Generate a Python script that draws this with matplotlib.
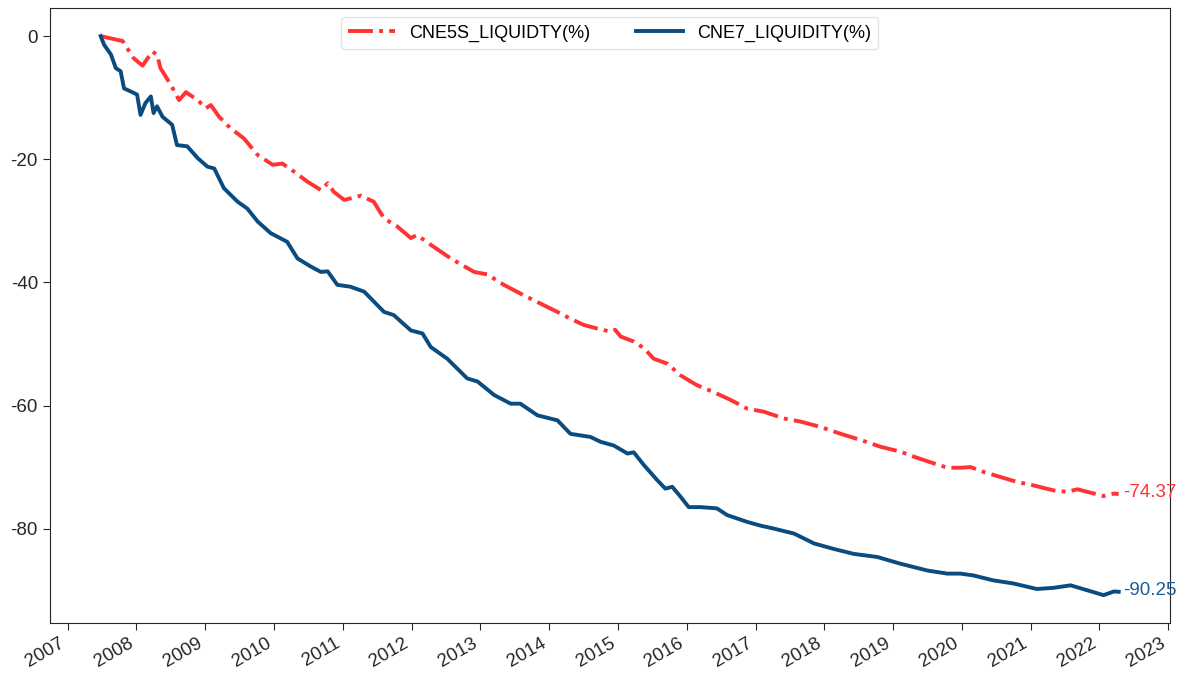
import numpy as np
import pandas as pd
import matplotlib
matplotlib.use("Agg")
from matplotlib import pyplot as plt
import matplotlib.dates as mdates

plt.rcParams['font.family'] = ['Liberation Sans', 'DejaVu Sans']
plt.rcParams['axes.unicode_minus'] = False

# values (decimal year, cumulative %)
cne5s_t = [2007.48, 2007.80, 2007.96, 2008.09, 2008.23, 2008.30, 2008.35, 2008.50, 2008.62,
           2008.72, 2008.89, 2009.01, 2009.08, 2009.20, 2009.37, 2009.56, 2009.76, 2009.98,
           2010.12, 2010.29, 2010.48, 2010.68, 2010.78, 2010.87, 2011.02, 2011.21, 2011.26,
           2011.45, 2011.60, 2011.79, 2011.99, 2012.08, 2012.28, 2012.57, 2012.91, 2013.10,
           2013.34, 2013.63, 2013.92, 2014.12, 2014.31, 2014.50, 2014.70, 2014.89, 2014.96,
           2015.04, 2015.23, 2015.38, 2015.52, 2015.72, 2015.91, 2016.15, 2016.39, 2016.64,
           2016.88, 2017.12, 2017.41, 2017.65, 2017.95, 2018.24, 2018.53, 2018.82, 2019.11,
           2019.30, 2019.54, 2019.79, 2019.98, 2020.13, 2020.32, 2020.56, 2020.80, 2021.05,
           2021.34, 2021.53, 2021.68, 2021.92, 2022.06, 2022.21, 2022.28]
cne5s_v = [0.0, -0.8, -3.6, -4.8, -2.5, -3.0, -5.2, -7.9, -10.4,
           -9.1, -10.4, -11.7, -11.2, -13.1, -15.0, -16.6, -19.3, -20.9,
           -20.7, -22.0, -23.6, -25.0, -23.9, -25.3, -26.6, -26.1, -25.9,
           -26.9, -29.6, -30.9, -32.8, -32.3, -33.9, -36.1, -38.3, -38.7,
           -40.4, -42.1, -43.7, -44.8, -45.9, -46.9, -47.5, -48.0, -47.7,
           -48.8, -49.6, -50.7, -52.4, -53.2, -55.1, -56.7, -57.8, -59.1,
           -60.5, -61.0, -62.1, -62.6, -63.5, -64.6, -65.6, -66.7, -67.5,
           -68.3, -69.2, -70.1, -70.1, -70.0, -70.8, -71.6, -72.4, -73.0,
           -73.8, -74.0, -73.6, -74.3, -74.7, -74.3, -74.37]

cne7_t = [2007.48, 2007.53, 2007.63, 2007.70, 2007.77, 2007.82, 2007.92, 2008.01, 2008.06,
          2008.13, 2008.21, 2008.25, 2008.30, 2008.38, 2008.52, 2008.59, 2008.74, 2008.89,
          2009.03, 2009.13, 2009.27, 2009.47, 2009.61, 2009.76, 2009.95, 2010.19, 2010.34,
          2010.53, 2010.68, 2010.78, 2010.92, 2011.11, 2011.31, 2011.60, 2011.74, 2011.99,
          2012.16, 2012.28, 2012.52, 2012.81, 2012.96, 2013.20, 2013.44, 2013.58, 2013.83,
          2014.12, 2014.31, 2014.60, 2014.75, 2014.94, 2015.14, 2015.23, 2015.38, 2015.57,
          2015.69, 2015.79, 2015.91, 2016.03, 2016.20, 2016.44, 2016.59, 2016.88, 2017.07,
          2017.27, 2017.56, 2017.85, 2018.14, 2018.43, 2018.77, 2019.11, 2019.50, 2019.79,
          2019.98, 2020.17, 2020.46, 2020.75, 2021.09, 2021.34, 2021.58, 2021.82, 2022.06,
          2022.21, 2022.28]
cne7_v = [0.0, -1.4, -3.0, -5.2, -5.7, -8.5, -9.0, -9.5, -12.8,
          -10.9, -9.8, -12.5, -11.4, -13.1, -14.4, -17.7, -17.9, -19.8,
          -21.2, -21.5, -24.7, -26.9, -28.0, -30.1, -32.0, -33.4, -36.1,
          -37.4, -38.3, -38.2, -40.4, -40.7, -41.5, -44.8, -45.3, -47.8,
          -48.3, -50.5, -52.4, -55.6, -56.1, -58.3, -59.7, -59.7, -61.6,
          -62.4, -64.6, -65.1, -65.9, -66.5, -67.8, -67.6, -69.7, -72.1,
          -73.5, -73.2, -74.8, -76.5, -76.5, -76.7, -77.8, -78.9, -79.5,
          -80.0, -80.8, -82.4, -83.3, -84.1, -84.6, -85.7, -86.8, -87.3,
          -87.3, -87.6, -88.4, -88.9, -89.8, -89.6, -89.2, -90.0, -90.8,
          -90.2, -90.25]

labels = ["CNE5S_LIQUIDTY(%)", "CNE7_LIQUIDITY(%)"]
red = "#ff3333"
blue = "#0b4c80"


def to_dates(years):
    return [pd.Timestamp(int(y), 1, 1) + pd.Timedelta(days=(y % 1) * 365.25) for y in years]


d5 = to_dates(cne5s_t)
d7 = to_dates(cne7_t)

fig = plt.figure(figsize=(11.85, 6.81), dpi=100)
ax = fig.add_axes([0.042, 0.085, 0.945, 0.903])

ax.plot(d5, cne5s_v, '-.', color=red, lw=2.8, label=labels[0])
ax.plot(d7, cne7_v, '-', color=blue, lw=2.8, label=labels[1])

ax.annotate(f"{cne5s_v[-1]:.2f}", (d5[-1], cne5s_v[-1]), xytext=(3, 1), textcoords='offset points',
            color=red, fontsize=13.5, va='center', ha='left')
ax.annotate(f"{cne7_v[-1]:.2f}", (d7[-1], cne7_v[-1]), xytext=(3, 1), textcoords='offset points',
            color="#1a5c96", fontsize=13.5, va='center', ha='left')

ax.xaxis.set_major_locator(mdates.YearLocator(1))
ax.xaxis.set_major_formatter(mdates.DateFormatter('%Y'))
for lab in ax.get_xticklabels():
    lab.set_rotation(30)
    lab.set_ha('right')

ax.tick_params(labelsize=13.5, colors='#262626', length=5)
for s in ax.spines.values():
    s.set_color('#262626')

ax.legend(loc='upper center', ncol=2, fontsize=13, frameon=True, edgecolor='#dddddd',
          handlelength=2.6, columnspacing=2.5)

fig.savefig("out.png", dpi=100)
